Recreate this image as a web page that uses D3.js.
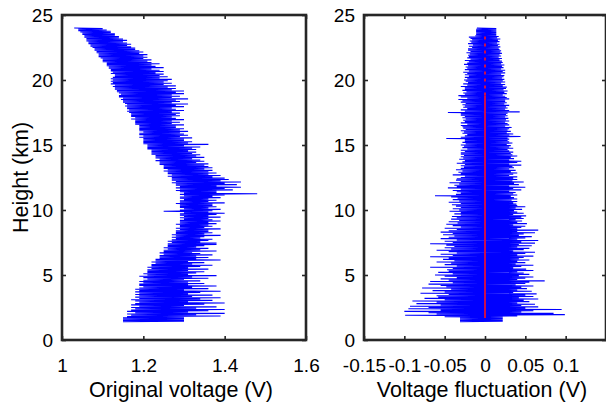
<!DOCTYPE html>
<html><head><meta charset="utf-8">
<script src="https://cdn.jsdelivr.net/npm/d3@7"></script>
<style>
html,body{margin:0;padding:0;background:#fff;}
svg{display:block;font-family:"Liberation Sans",Arial,Helvetica,sans-serif;}
</style></head>
<body>
<svg id="chart" width="606" height="410"></svg>
<script>
// ---------- data ----------
// heights (km) sampled every 0.05 km from 1.4 to 24.0
const heights = d3.range(0, 453).map(i => +(1.4 + i * 0.05).toFixed(2));

// original voltage (V), left panel (one row = 1 km)
const originalVoltage = [
 1.15,1.30,1.15,1.30,1.15,1.30,1.15,1.30,1.16,1.39,1.17,1.33,1.16,1.40,1.18,1.31,1.16,1.36,1.17,1.40,
 1.18,1.33,1.17,1.38,1.19,1.30,1.17,1.35,1.18,1.40,1.19,1.31,1.18,1.37,1.17,1.34,1.19,1.39,1.18,1.32,
 1.19,1.37,1.18,1.31,1.19,1.34,1.18,1.39,1.19,1.30,1.18,1.36,1.19,1.32,1.20,1.38,1.19,1.31,1.19,1.35,
 1.20,1.31,1.19,1.34,1.20,1.30,1.21,1.36,1.20,1.32,1.19,1.38,1.21,1.31,1.20,1.33,1.21,1.35,1.21,1.31,
 1.21,1.36,1.22,1.31,1.21,1.34,1.22,1.37,1.22,1.32,1.23,1.35,1.22,1.31,1.23,1.39,1.23,1.33,1.24,1.36,
 1.24,1.33,1.24,1.37,1.25,1.34,1.24,1.32,1.25,1.38,1.25,1.34,1.26,1.36,1.25,1.33,1.26,1.35,1.26,1.38,
 1.26,1.38,1.27,1.34,1.26,1.36,1.27,1.37,1.28,1.34,1.27,1.35,1.28,1.39,1.27,1.35,1.28,1.37,1.28,1.36,
 1.28,1.36,1.29,1.39,1.28,1.35,1.29,1.37,1.29,1.36,1.28,1.38,1.29,1.36,1.29,1.39,1.29,1.37,1.30,1.36,
 1.29,1.39,1.30,1.36,1.29,1.38,1.29,1.40,1.30,1.36,1.25,1.37,1.29,1.39,1.30,1.36,1.29,1.38,1.29,1.37,
 1.29,1.37,1.28,1.40,1.29,1.36,1.29,1.38,1.30,1.36,1.29,1.39,1.29,1.37,1.30,1.40,1.29,1.48,1.30,1.38,
 1.29,1.38,1.28,1.42,1.29,1.40,1.28,1.44,1.29,1.38,1.28,1.43,1.28,1.40,1.27,1.44,1.28,1.39,1.27,1.41,
 1.27,1.40,1.27,1.37,1.26,1.39,1.27,1.36,1.26,1.38,1.26,1.36,1.25,1.37,1.26,1.35,1.25,1.37,1.25,1.36,
 1.25,1.35,1.24,1.36,1.24,1.33,1.24,1.35,1.23,1.34,1.24,1.32,1.23,1.35,1.23,1.33,1.23,1.34,1.22,1.32,
 1.22,1.33,1.22,1.31,1.22,1.33,1.21,1.32,1.21,1.34,1.21,1.30,1.21,1.36,1.20,1.31,1.20,1.32,1.20,1.30,
 1.20,1.30,1.20,1.32,1.19,1.29,1.20,1.31,1.19,1.30,1.19,1.29,1.20,1.31,1.19,1.29,1.19,1.30,1.19,1.28,
 1.19,1.28,1.19,1.30,1.18,1.27,1.18,1.29,1.18,1.27,1.18,1.30,1.17,1.28,1.18,1.27,1.17,1.29,1.17,1.28,
 1.17,1.29,1.165,1.27,1.16,1.30,1.165,1.28,1.16,1.27,1.16,1.30,1.155,1.28,1.16,1.31,1.155,1.27,1.15,1.29,
 1.15,1.28,1.145,1.31,1.15,1.27,1.14,1.29,1.14,1.27,1.145,1.30,1.14,1.28,1.135,1.30,1.135,1.27,1.13,1.28,
 1.13,1.26,1.125,1.28,1.13,1.25,1.12,1.27,1.125,1.25,1.12,1.26,1.125,1.27,1.12,1.24,1.125,1.26,1.13,1.24,
 1.13,1.25,1.12,1.23,1.125,1.25,1.12,1.24,1.12,1.22,1.115,1.25,1.115,1.23,1.11,1.22,1.11,1.24,1.11,1.22,
 1.10,1.21,1.10,1.22,1.10,1.20,1.095,1.21,1.09,1.20,1.09,1.21,1.09,1.19,1.085,1.20,1.085,1.19,1.08,1.18,
 1.08,1.18,1.075,1.17,1.07,1.16,1.07,1.17,1.065,1.16,1.065,1.15,1.06,1.16,1.06,1.15,1.06,1.14,1.055,1.14,
 1.055,1.13,1.05,1.13,1.05,1.12,1.045,1.12,1.04,1.11,1.04,1.10,1.03
];

// voltage fluctuation (V), right panel (one row = 1 km)
const voltageFluctuation = [
 -0.031,0.022,-0.031,0.022,-0.031,0.022,-0.031,0.022,-0.050,0.040,-0.099,0.099,-0.060,0.085,-0.070,0.045,-0.100,0.060,-0.055,0.095,
 -0.095,0.050,-0.070,0.066,-0.093,0.045,-0.055,0.062,-0.085,0.040,-0.060,0.055,-0.090,0.048,-0.050,0.066,-0.075,0.042,-0.058,0.060,
 -0.060,0.050,-0.045,0.064,-0.080,0.035,-0.050,0.058,-0.065,0.040,-0.042,0.052,-0.078,0.045,-0.048,0.060,-0.055,0.038,-0.070,0.050,
 -0.040,0.055,-0.068,0.074,-0.045,0.040,-0.055,0.050,-0.035,0.060,-0.050,0.042,-0.062,0.055,-0.040,0.048,-0.058,0.040,-0.045,0.060,
 -0.047,0.051,-0.040,0.035,-0.068,0.045,-0.035,0.060,-0.050,0.038,-0.042,0.050,-0.060,0.040,-0.038,0.055,-0.052,0.042,-0.045,0.048,
 -0.068,0.060,-0.040,0.040,-0.055,0.050,-0.035,0.062,-0.045,0.035,-0.060,0.048,-0.042,0.055,-0.050,0.040,-0.038,0.058,-0.048,0.042,
 -0.068,0.062,-0.040,0.045,-0.050,0.066,-0.035,0.040,-0.055,0.050,-0.045,0.058,-0.038,0.042,-0.052,0.048,-0.040,0.062,-0.055,0.040,
 -0.045,0.066,-0.035,0.040,-0.050,0.045,-0.030,0.050,-0.040,0.035,-0.048,0.052,-0.034,0.040,-0.045,0.046,-0.032,0.038,-0.042,0.048,
 -0.035,0.045,-0.041,0.051,-0.030,0.035,-0.038,0.048,-0.030,0.040,-0.044,0.036,-0.032,0.046,-0.040,0.038,-0.030,0.050,-0.036,0.040,
 -0.041,0.039,-0.030,0.035,-0.045,0.040,-0.032,0.033,-0.040,0.040,-0.034,0.036,-0.042,0.032,-0.062,0.040,-0.036,0.035,-0.030,0.038,
 -0.035,0.030,-0.040,0.045,-0.030,0.035,-0.046,0.050,-0.035,0.030,-0.038,0.042,-0.032,0.036,-0.044,0.048,-0.030,0.034,-0.036,0.040,
 -0.035,0.035,-0.030,0.040,-0.025,0.030,-0.040,0.035,-0.030,0.040,-0.033,0.032,-0.028,0.038,-0.036,0.030,-0.030,0.036,-0.026,0.034,
 -0.030,0.045,-0.025,0.030,-0.035,0.040,-0.028,0.045,-0.025,0.030,-0.032,0.036,-0.027,0.032,-0.030,0.040,-0.026,0.034,-0.030,0.032,
 -0.030,0.035,-0.025,0.030,-0.030,0.028,-0.022,0.035,-0.028,0.030,-0.026,0.032,-0.030,0.027,-0.024,0.034,-0.028,0.030,-0.025,0.028,
 -0.025,0.030,-0.048,0.028,-0.030,0.044,-0.025,0.030,-0.022,0.035,-0.028,0.027,-0.026,0.032,-0.030,0.028,-0.024,0.030,-0.027,0.033,
 -0.028,0.025,-0.030,0.030,-0.022,0.028,-0.030,0.025,-0.025,0.030,-0.027,0.026,-0.024,0.029,-0.028,0.025,-0.025,0.028,-0.030,0.026,
 -0.030,0.028,-0.046,0.043,-0.025,0.030,-0.030,0.025,-0.022,0.028,-0.027,0.026,-0.025,0.030,-0.028,0.024,-0.024,0.027,-0.030,0.025,
 -0.028,0.025,-0.033,0.030,-0.022,0.027,-0.030,0.025,-0.033,0.022,-0.025,0.027,-0.027,0.024,-0.023,0.028,-0.028,0.023,-0.025,0.026,
 -0.025,0.027,-0.030,0.022,-0.022,0.025,-0.027,0.020,-0.021,0.025,-0.024,0.022,-0.026,0.024,-0.022,0.021,-0.025,0.023,-0.020,0.024,
 -0.025,0.020,-0.022,0.025,-0.027,0.022,-0.020,0.025,-0.025,0.020,-0.022,0.023,-0.024,0.021,-0.021,0.024,-0.026,0.020,-0.022,0.022,
 -0.020,0.021,-0.025,0.018,-0.018,0.021,-0.022,0.017,-0.020,0.020,-0.021,0.018,-0.019,0.021,-0.023,0.019,-0.018,0.020,-0.021,0.018,
 -0.021,0.017,-0.016,0.019,-0.020,0.016,-0.015,0.018,-0.021,0.015,-0.017,0.018,-0.019,0.016,-0.016,0.019,-0.018,0.015,-0.020,0.017,
 -0.012,0.014,-0.011,0.014,-0.011,0.014,-0.011,0.014,-0.011,0.014,-0.011,0.014,-0.010
];

// red zero reference line (height extent, km)
const zeroLineSolid = [1.7, 18.8];
const zeroLineDashed = [18.8, 23.5];

// ticks
const heightTicks = [0, 5, 10, 15, 20, 25];
const voltageTicks = [1, 1.2, 1.4, 1.6];
const fluctTicks = [-0.15, -0.1, -0.05, 0, 0.05, 0.1];
const fluctTickMarks = [-0.15, -0.1, -0.05, 0, 0.05, 0.1, 0.15];

// ---------- drawing ----------
const svg = d3.select("#chart");
const yTop = 15, yBottom = 340;
const y = d3.scaleLinear().domain([0, 25]).range([yBottom, yTop]);
const xL = d3.scaleLinear().domain([1, 1.6]).range([62, 306]);
const xR = d3.scaleLinear().domain([-0.15, 0.15]).range([364, 606]);
const axisColor = "#262626";
const tickFs = 19, titleFs = 21.5;

function panel(x, tickVals, tickMarks, values, xTitle, yTitle) {
  const g = svg.append("g");
  const [x0, x1] = x.range();
  const fmt = d => String(d);

  const pts = heights.map((h, i) => [values[i], h]);
  g.append("path")
    .datum(pts)
    .attr("fill", "none")
    .attr("stroke", "#0000ff")
    .attr("stroke-width", 1.1)
    .attr("d", d3.line().x(d => x(d[0])).y(d => y(d[1])));

  const gb = g.append("g").attr("transform", `translate(0,${yBottom})`)
    .call(d3.axisBottom(x).tickValues(tickMarks).tickSize(-4).tickPadding(19)
      .tickFormat(d => tickVals.includes(d) ? fmt(d) : ""));
  const gt = g.append("g").attr("transform", `translate(0,${yTop})`)
    .call(d3.axisTop(x).tickValues(tickMarks).tickSize(-4).tickFormat(""));
  const gl = g.append("g").attr("transform", `translate(${x0},0)`)
    .call(d3.axisLeft(y).tickValues(heightTicks).tickSize(-4).tickPadding(9));
  const gr = g.append("g").attr("transform", `translate(${x1},0)`)
    .call(d3.axisRight(y).tickValues(heightTicks).tickSize(-4).tickFormat(""));

  [gb, gt, gl, gr].forEach(a => {
    a.select(".domain").remove();
    a.selectAll(".tick line").attr("stroke", axisColor).attr("stroke-width", 1.6);
    a.selectAll(".tick text").attr("fill", "#000").style("font-size", tickFs + "px")
      .style("font-family", '"Liberation Sans",Arial,sans-serif');
  });

  g.append("rect")
    .attr("x", x0).attr("y", yTop)
    .attr("width", x1 - x0).attr("height", yBottom - yTop)
    .attr("fill", "none").attr("stroke", axisColor).attr("stroke-width", 2.6);

  g.append("text")
    .attr("x", (x0 + x1) / 2 - 3).attr("y", 397)
    .attr("text-anchor", "middle")
    .style("font-size", titleFs + "px").attr("fill", "#000")
    .text(xTitle);

  if (yTitle) {
    g.append("text")
      .attr("transform", `translate(28,${(yTop + yBottom) / 2}) rotate(-90)`)
      .attr("text-anchor", "middle")
      .style("font-size", titleFs + "px").attr("fill", "#000")
      .text(yTitle);
  }
  return g;
}

panel(xL, voltageTicks, voltageTicks, originalVoltage, "Original voltage (V)", "Height (km)");
const gR = panel(xR, fluctTicks, fluctTickMarks, voltageFluctuation, "Voltage fluctuation (V)", null);

gR.append("line")
  .attr("x1", xR(0)).attr("x2", xR(0))
  .attr("y1", y(zeroLineSolid[0])).attr("y2", y(zeroLineSolid[1]))
  .attr("stroke", "#e0103a").attr("stroke-width", 1.8);
gR.append("line")
  .attr("x1", xR(0)).attr("x2", xR(0))
  .attr("y1", y(zeroLineDashed[0])).attr("y2", y(zeroLineDashed[1]))
  .attr("stroke", "#e0103a").attr("stroke-width", 1.8)
  .attr("stroke-dasharray", "3,4");
</script>
</body></html>
